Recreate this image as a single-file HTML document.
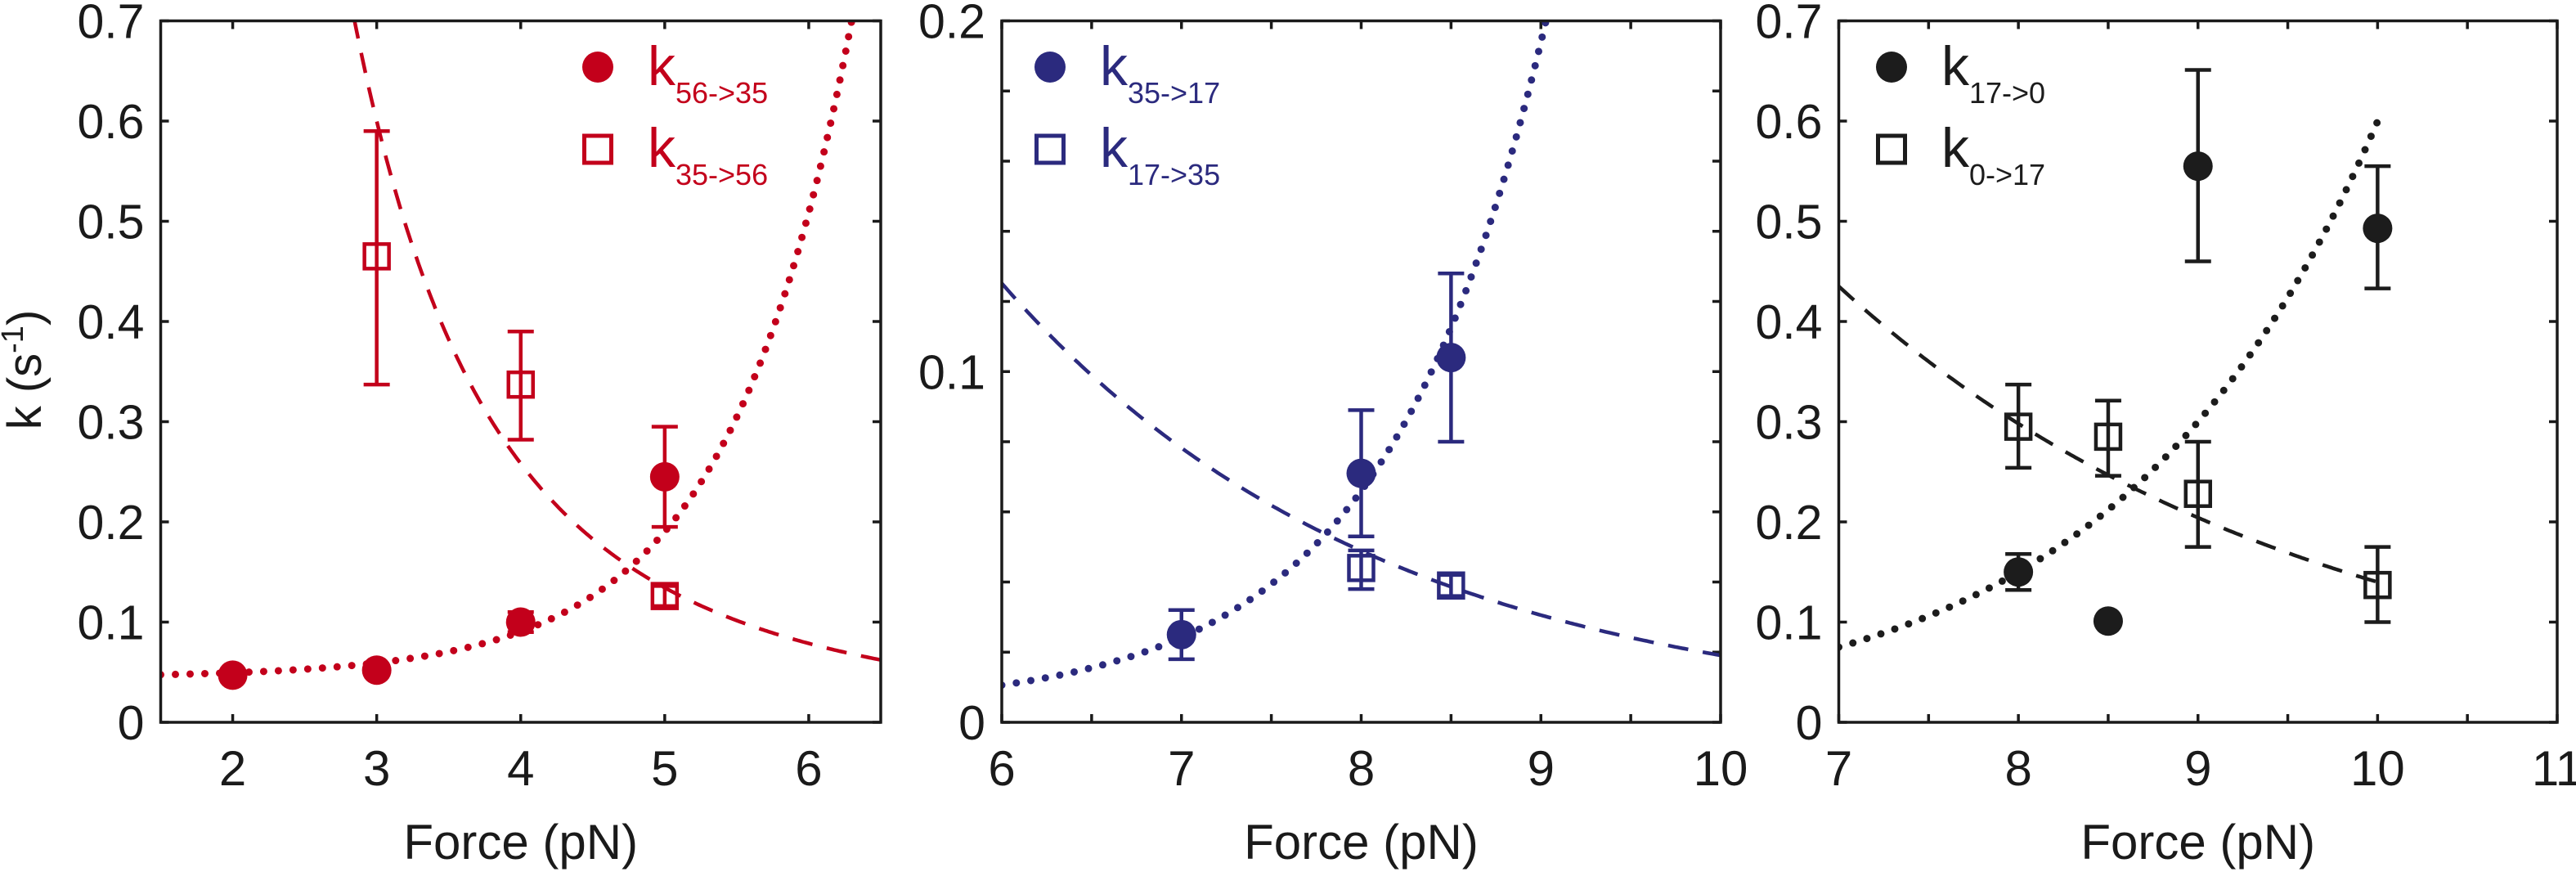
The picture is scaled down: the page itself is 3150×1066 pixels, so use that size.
<!DOCTYPE html>
<html><head><meta charset="utf-8"><title>Rates vs force</title>
<style>
html,body{margin:0;padding:0;background:#fff;}
svg{display:block;}
text{font-family:"Liberation Sans",sans-serif;}
</style></head>
<body>
<svg id="chart" width="3150" height="1066" viewBox="0 0 3150 1066" xmlns="http://www.w3.org/2000/svg">
<text transform="translate(50,452) rotate(-90)" text-anchor="middle" font-size="58" fill="#1a1a1a">k (s<tspan font-size="38" dy="-22">-1</tspan><tspan dy="22">)</tspan></text>
</svg>
<script>
// ---------- Panel 1 data (red) ----------
const p1Fwd = [2, 3, 4, 5];
const p1FwdVal = [0.047, 0.052, 0.100, 0.245];
const p1FwdLo = [0.047, 0.052, 0.090, 0.195];
const p1FwdHi = [0.047, 0.052, 0.110, 0.295];
const p1Rev = [3, 4, 5];
const p1RevVal = [0.465, 0.337, 0.126];
const p1RevLo = [0.337, 0.282, 0.116];
const p1RevHi = [0.590, 0.390, 0.136];
const p1XTicks = [2, 3, 4, 5, 6];
const p1YTicks = [0, 0.1, 0.2, 0.3, 0.4, 0.5, 0.6, 0.7];
const p1YLabels = ["0", "0.1", "0.2", "0.3", "0.4", "0.5", "0.6", "0.7"];
// fit params: dotted y = a + b*exp(c*x) ; dashed y = b * x^(-p)
const p1DotFit = [0.045, 4.4e-4, 1.16];
const p1DashFit = [15.0, 2.93];

// ---------- Panel 2 data (navy) ----------
const p2Fwd = [7, 8, 8.5];
const p2FwdVal = [0.025, 0.071, 0.104];
const p2FwdLo = [0.018, 0.053, 0.080];
const p2FwdHi = [0.032, 0.089, 0.128];
const p2Rev = [8, 8.5];
const p2RevVal = [0.044, 0.039];
const p2RevLo = [0.038, 0.036];
const p2RevHi = [0.049, 0.042];
const p2XTicks = [6, 7, 8, 9, 10];
const p2YTicks = [0, 0.1, 0.2];
const p2YLabels = ["0", "0.1", "0.2"];
const p2DotFit = [0.004, 7.96e-6, 1.12];
const p2DashFit = [2.10, 0.47];

// ---------- Panel 3 data (black) ----------
const p3Fwd = [8, 8.5, 9, 10];
const p3FwdVal = [0.150, 0.101, 0.555, 0.493];
const p3FwdLo = [0.132, 0.101, 0.460, 0.433];
const p3FwdHi = [0.168, 0.101, 0.651, 0.555];
const p3Rev = [8, 8.5, 9, 10];
const p3RevVal = [0.295, 0.285, 0.228, 0.137];
const p3RevLo = [0.254, 0.246, 0.175, 0.100];
const p3RevHi = [0.337, 0.321, 0.280, 0.175];
const p3XTicks = [7, 8, 9, 10, 11];
const p3YTicks = [0, 0.1, 0.2, 0.3, 0.4, 0.5, 0.6, 0.7];
const p3YLabels = ["0", "0.1", "0.2", "0.3", "0.4", "0.5", "0.6", "0.7"];
const p3DotFit = [0, 0.075 * Math.exp(-0.693 * 7), 0.693];
const p3DashFit = [0.435 * Math.exp(0.378 * 7), 0.378];

const NS = "http://www.w3.org/2000/svg";
const svg = document.getElementById("chart");
function mk(tag, attrs, parent) {
  const e = document.createElementNS(NS, tag);
  for (const k in attrs) e.setAttribute(k, attrs[k]);
  (parent || svg).appendChild(e);
  return e;
}

const panels = [
  {id:"p1", L:196.5, R:1077, xmin:1.5, xmax:6.5, ymax:0.7, color:"#c3001b",
   fwd:p1Fwd, fv:p1FwdVal, flo:p1FwdLo, fhi:p1FwdHi, rev:p1Rev, rv:p1RevVal, rlo:p1RevLo, rhi:p1RevHi,
   xt:p1XTicks, xminor:[], yt:p1YTicks, yl:p1YLabels, yminor:[],
   dot:(x)=>p1DotFit[0]+p1DotFit[1]*Math.exp(p1DotFit[2]*x), dotR:[1.5,6.5],
   dash:(x)=>p1DashFit[0]*Math.pow(x,-p1DashFit[1]), dashR:[2.6,6.5],
   leg:[731,"56->35","35->56"]},
  {id:"p2", L:1225, R:2104, xmin:6, xmax:10, ymax:0.2, color:"#2b2a7e",
   fwd:p2Fwd, fv:p2FwdVal, flo:p2FwdLo, fhi:p2FwdHi, rev:p2Rev, rv:p2RevVal, rlo:p2RevLo, rhi:p2RevHi,
   xt:p2XTicks, xminor:[6.5,7.5,8.5,9.5], yt:p2YTicks, yl:p2YLabels, yminor:[0.02,0.04,0.06,0.08,0.12,0.14,0.16,0.18],
   dot:(x)=>p2DotFit[0]+p2DotFit[1]*Math.exp(p2DotFit[2]*x), dotR:[6,10],
   dash:(x)=>p2DashFit[0]*Math.exp(-p2DashFit[1]*x), dashR:[6,10],
   leg:[1284,"35->17","17->35"]},
  {id:"p3", L:2248.5, R:3127, xmin:7, xmax:11, ymax:0.7, color:"#1c1c1c",
   fwd:p3Fwd, fv:p3FwdVal, flo:p3FwdLo, fhi:p3FwdHi, rev:p3Rev, rv:p3RevVal, rlo:p3RevLo, rhi:p3RevHi,
   xt:p3XTicks, xminor:[7.5,8.5,9.5,10.5], yt:p3YTicks, yl:p3YLabels, yminor:[],
   dot:(x)=>p3DotFit[0]+p3DotFit[1]*Math.exp(p3DotFit[2]*x), dotR:[7,10],
   dash:(x)=>p3DashFit[0]*Math.exp(-p3DashFit[1]*x), dashR:[7,10],
   leg:[2313,"17->0","0->17"]}
];
const T = 25.5, B = 883, AX = "#1a1a1a";

panels.forEach(p => {
  const sx = x => p.L + (x - p.xmin) / (p.xmax - p.xmin) * (p.R - p.L);
  const sy = y => B - y / p.ymax * (B - T);
  const g = mk("g", {});
  
  
  const clip = mk("clipPath", {id: p.id + "clip"}, g);
  mk("rect", {x:p.L, y:T, width:p.R-p.L, height:B-T}, clip);

  // ticks
  const ticks = mk("g", {stroke:AX, "stroke-width":3.5, fill:"none"}, g);
  
  
  p.xt.concat(p.xminor).forEach(v => {
    const x = sx(v);
    mk("line", {x1:x, y1:B, x2:x, y2:B-10}, ticks);
    mk("line", {x1:x, y1:T, x2:x, y2:T+10}, ticks);
  });
  p.yt.concat(p.yminor).forEach(v => {
    const y = sy(v);
    mk("line", {x1:p.L, y1:y, x2:p.L+10, y2:y}, ticks);
    mk("line", {x1:p.R, y1:y, x2:p.R-10, y2:y}, ticks);
  });
  // tick labels
  p.xt.forEach(v => {
    const t = mk("text", {x:sx(v), y:960, "text-anchor":"middle", "font-size":60, fill:AX}, g);
    
    
    t.textContent = String(v);
  });
  p.yt.forEach((v, i) => {
    const t = mk("text", {x:p.L-20, y:sy(v)+21, "text-anchor":"end", "font-size":59, fill:AX}, g);
    
    
    t.textContent = p.yl[i];
  });
  const xt = mk("text", {x:(p.L+p.R)/2, y:1050, "text-anchor":"middle", "font-size":60, fill:AX}, g);
  
  
  xt.textContent = "Force (pN)";

  // fits
  const plot = mk("g", {"clip-path":"url(#" + p.id + "clip)"}, g);
  function curve(f, r) {
    let d = "";
    for (let i = 0; i <= 300; i++) {
      const x = r[0] + (r[1]-r[0]) * i / 300;
      let y = f(x); if (y > p.ymax*1.3) y = p.ymax*1.3;
      d += (i ? "L" : "M") + sx(x).toFixed(1) + "," + sy(y).toFixed(1);
    }
    return d;
  }
  const dl = mk("path", {d:curve(p.dot, p.dotR), fill:"none", stroke:p.color, "stroke-width":9, "stroke-linecap":"round", "stroke-dasharray":"0 18"}, plot);
  
  
  const dsh = mk("path", {d:curve(p.dash, p.dashR), fill:"none", stroke:p.color, "stroke-width":4.5, "stroke-dasharray":"25 18"}, plot);
  
  

  // error bars + markers
  function ebar(x, lo, hi) {
    const e = mk("g", {stroke:p.color, "stroke-width":4.5}, g);
    
    
    mk("line", {x1:sx(x), y1:sy(lo), x2:sx(x), y2:sy(hi)}, e);
    mk("line", {x1:sx(x)-16, y1:sy(lo), x2:sx(x)+16, y2:sy(lo)}, e);
    mk("line", {x1:sx(x)-16, y1:sy(hi), x2:sx(x)+16, y2:sy(hi)}, e);
  }
  p.rev.forEach((x, i) => {
    ebar(x, p.rlo[i], p.rhi[i]);
    const s = mk("rect", {x:sx(x)-15, y:sy(p.rv[i])-15, width:30, height:30, fill:"none", stroke:p.color, "stroke-width":4.5}, g);
    
    
  });
  p.fwd.forEach((x, i) => {
    if (p.fhi[i] > p.flo[i]) ebar(x, p.flo[i], p.fhi[i]);
    const c = mk("circle", {cx:sx(x), cy:sy(p.fv[i]), r:18, fill:p.color}, g);
    
    
  });

  // frame
  const fr = mk("rect", {x:p.L, y:T, width:p.R-p.L, height:B-T, fill:"none", stroke:AX, "stroke-width":3.5}, g);
  
  

  // legend
  const lg = mk("g", {}, g);
  
  
  const lx = p.leg[0];
  const lc = mk("circle", {cx:lx, cy:82, r:19, fill:p.color}, lg);
  
  
  const ls = mk("rect", {x:lx-16.5, y:166, width:33, height:33, fill:"none", stroke:p.color, "stroke-width":5}, lg);
  
  
  [[p.leg[1], 104], [p.leg[2], 204]].forEach(([sub, by]) => {
    const t = mk("text", {x:lx+61, y:by, "font-size":68, fill:p.color}, lg);
    
    
    const a = mk("tspan", {}, t); a.textContent = "k";
    const b = mk("tspan", {"font-size":36, dy:22}, t); b.textContent = sub;
  });
});
</script>
</body></html>
